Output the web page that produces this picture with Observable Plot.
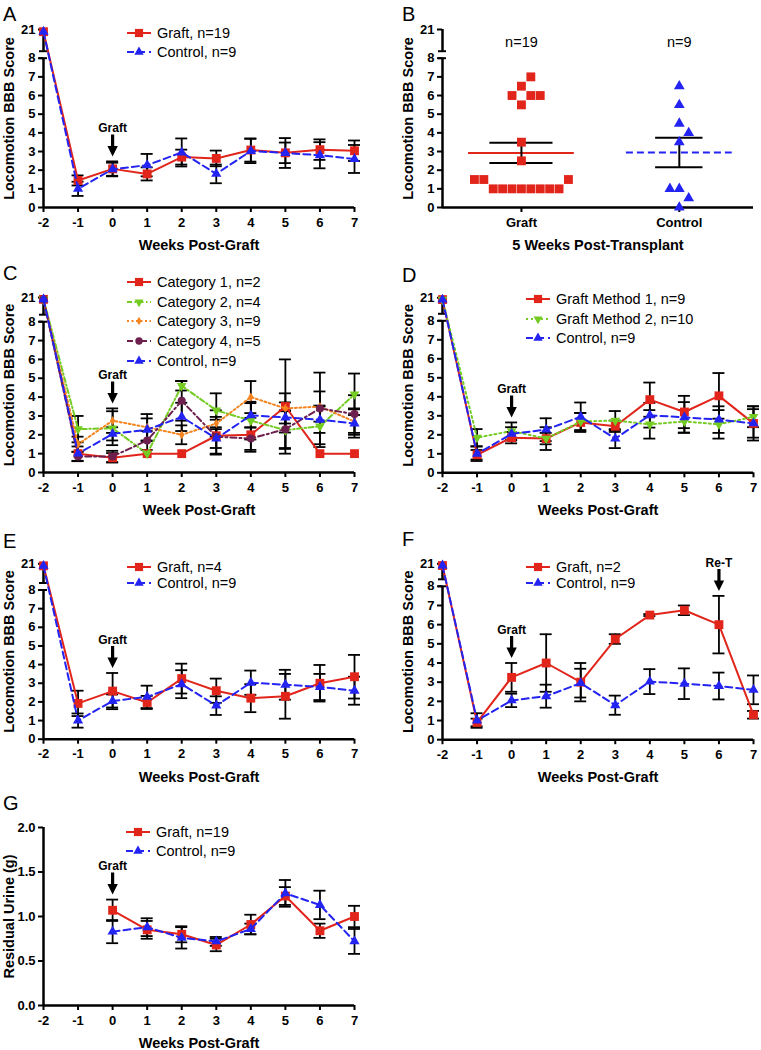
<!DOCTYPE html>
<html><head><meta charset="utf-8">
<script src="https://cdn.jsdelivr.net/npm/d3@7"></script>
<script src="https://cdn.jsdelivr.net/npm/@observablehq/plot@0.6"></script>
<style>
html,body{margin:0;padding:0;background:#fff;}
#fig{position:relative;width:761px;height:1050px;overflow:hidden;font-family:"Liberation Sans",Arial,Helvetica,sans-serif;color:#000;}
.panel{position:absolute;}
.panel svg{display:block;}
.letter{position:absolute;font-size:20px;line-height:20px;}
.legend{position:absolute;font-size:14.5px;}
.legend .row{position:absolute;left:0;height:18px;display:flex;align-items:center;white-space:nowrap;}
.legend svg{margin-right:5px;flex:none;}
</style></head><body><div id="fig"></div>
<script>
// ---------------- data ----------------
const weeks = [-2,-1,0,1,2,3,4,5,6,7];
const weekTicks = [-2,-1,0,1,2,3,4,5,6,7];

const controlBBB    = [20, 1.0, 2.05, 2.27, 2.95, 1.8, 3.03, 2.92, 2.8, 2.6];
const controlBBBSem = [0, 0.38, 0.35, 0.6, 0.75, 0.5, 0.65, 0.8, 0.7, 0.75];

const graftA    = [20, 1.45, 2.07, 1.8, 2.7, 2.63, 3.08, 2.93, 3.1, 3.04];
const graftASem = [0, 0.27, 0.4, 0.35, 0.4, 0.42, 0.62, 0.55, 0.55, 0.55];

const cat1    = [20, 1.0, 0.78, 1.0, 1.0, 1.95, 2.0, 3.5, 1.0, 1.0];
const cat1Sem = [0, 0, 0.25, 0, 0, 1.0, 0.9, 2.5, 0, 0];
const cat2    = [20, 2.3, 2.35, 1.0, 4.6, 3.3, 2.75, 2.25, 2.45, 4.15];
const cat2Sem = [0, 0.7, 0.9, 0, 0.25, 0.9, 1.0, 1.0, 1.1, 1.1];
const cat3    = [20, 1.5, 2.75, 2.4, 2.0, 2.6, 4.0, 3.4, 3.5, 2.7];
const cat3Sem = [0, 0.4, 0.65, 0.7, 0.5, 0.7, 0.85, 0.8, 0.8, 0.7];
const cat4    = [20, 0.85, 0.85, 1.7, 3.8, 1.9, 1.8, 2.3, 3.4, 3.1];
const cat4Sem = [0, 0.25, 0.3, 0.5, 1.05, 0.9, 0.6, 1.0, 1.9, 1.0];

const method1    = [20, 0.95, 1.85, 1.8, 2.65, 2.45, 3.85, 3.2, 4.05, 2.6];
const method1Sem = [0, 0.25, 0.3, 0.6, 0.5, 0.3, 0.9, 0.85, 1.2, 0.9];
const method2    = [20, 1.85, 2.2, 1.8, 2.7, 2.75, 2.55, 2.7, 2.55, 2.95];
const method2Sem = [0, 0.45, 0.45, 0.3, 0.45, 0.5, 0.75, 0.6, 0.75, 0.55];

const graftE    = [20, 1.92, 2.58, 1.97, 3.25, 2.6, 2.2, 2.3, 3.0, 3.35];
const graftESem = [0, 0.68, 0.97, 0.35, 0.8, 0.65, 0.75, 1.2, 0.98, 1.17];

const graftF    = [20, 0.9, 3.25, 4.0, 3.0, 5.25, 6.5, 6.75, 6.0, 1.3];
const graftFSem = [0, 0.2, 0.75, 1.5, 1.0, 0.25, 0.05, 0.25, 1.5, 0.2];

const urineWeeks    = [0,1,2,3,4,5,6,7];
const urineGraft    = [1.07, 0.85, 0.80, 0.68, 0.91, 1.23, 0.84, 1.00];
const urineGraftSem = [0.12, 0.10, 0.09, 0.07, 0.11, 0.10, 0.08, 0.12];
const urineCtrl     = [0.83, 0.88, 0.76, 0.72, 0.86, 1.26, 1.13, 0.72];
const urineCtrlSem  = [0.13, 0.10, 0.12, 0.05, 0.06, 0.15, 0.16, 0.14];

const bCategories = ["Graft", "Control"];
const bGraftScores   = [7, 6.5, 6, 6, 6, 5.5, 3.5, 2.5, 1.5, 1.5, 1.5, 1, 1, 1, 1, 1, 1, 1, 1];
const bControlScores = [6.5, 5.5, 4.5, 4, 3.5, 1, 1, 0.5, 0];
const bCounts = ["n=19", "n=9"];

// ---------------- styles ----------------
const RED = "#e1251b", BLUE = "#2323f2", GREEN = "#74cc22", ORANGE = "#f5841f", PURPLE = "#6d1f4e";
const triDown = {draw(c, size){ const s3 = Math.sqrt(3); const y = -Math.sqrt(size/(s3*3)); c.moveTo(0,-y*2); c.lineTo(-s3*y, y); c.lineTo(s3*y, y); c.closePath(); }};
const arrowSym = {draw(c){ c.moveTo(-1.6,-22); c.lineTo(1.6,-22); c.lineTo(1.6,-10.5); c.lineTo(5.2,-10.5); c.lineTo(0,0); c.lineTo(-5.2,-10.5); c.lineTo(-1.6,-10.5); c.closePath(); }};
const SQ = {symbol: d3.symbolSquare, r: 5};
const TRI = {symbol: d3.symbolTriangle, r: 3.8};
const TRID = {symbol: triDown, r: 3.6};
const DIA = {symbol: d3.symbolDiamond, r: 2.8};
const CIR = {symbol: d3.symbolCircle, r: 4};

function S(name, values, sem, color, dash, shape, w){ return {name, values, sem, color, dash, ...shape, weeks: w || weeks}; }
const ctrlSeries = () => S("Control, n=9", controlBBB, controlBBBSem, BLUE, "7,4", TRI);

const fig = document.getElementById("fig");
const FONT = "'Liberation Sans', Arial, Helvetica, sans-serif";
const W = 362, ML = 43, MR = 8;

function addLetter(t, x, y){ const d = document.createElement("div"); d.className = "letter"; d.textContent = t; d.style.left = x+"px"; d.style.top = y+"px"; fig.appendChild(d); }

function addLegend(lg, series){
  const div = document.createElement("div"); div.className = "legend";
  div.style.left = lg.x + "px"; div.style.top = lg.y + "px";
  series.forEach((s, i) => {
    const row = document.createElement("div"); row.className = "row";
    row.style.top = (i*lg.dy - 9) + "px";
    const path = d3.symbol(s.symbol, Math.PI*s.r*s.r*0.85)();
    row.innerHTML = `<svg width="26" height="14"><line x1="1" x2="25" y1="7" y2="7" stroke="${s.color}" stroke-width="2" ${s.dash ? `stroke-dasharray="${s.dash}"` : ""}/><path transform="translate(13,7)" d="${path}" fill="${s.color}"/></svg><span>${s.name}</span>`;
    div.appendChild(row);
  });
  fig.appendChild(div);
}

function place(node, left, top){ const d = document.createElement("div"); d.className = "panel"; d.style.left = left+"px"; d.style.top = top+"px"; d.appendChild(node); fig.appendChild(d); }

const plotStyle = {fontFamily: FONT, fontSize: "13px", fontWeight: "bold", background: "transparent", overflow: "visible", color: "black"};

function titleMarks(p){
  return [
    Plot.text([p.yTitle], {frameAnchor: "left", textAnchor: "middle", lineAnchor: "middle", dx: -34, rotate: -90, fontSize: 14.5, fontWeight: "bold", text: d => d}),
    Plot.text([p.xTitle], {frameAnchor: "bottom", textAnchor: "middle", lineAnchor: "middle", dy: 38, fontSize: 14.5, fontWeight: "bold", text: d => d})
  ];
}

function linePanel(p){
  const mt = p.yTopPx - p.top, mb = p.height - (p.y0Px - p.top);
  let yTop, disp, yTicks, yFmt, gap = 0;
  if (p.broken) {
    const ppu = (p.y0Px - p.y8Px) / 8;
    yTop = 8 + (p.y8Px - p.yTopPx) / ppu;
    disp = v => v <= 8 ? v : 8 + (v - 8) / 13 * (yTop - 8);
    yTicks = [...d3.range(0, 9), yTop];
    yFmt = d => d > 8 ? "21" : String(d);
    gap = 7 / ppu;
  } else {
    yTop = p.ymax; disp = v => v; yTicks = p.yTicks; yFmt = d3.format(".1f");
  }
  const xppu = (W - ML - MR) / 9;
  const capW = 6 / xppu;
  const marks = [];
  marks.push(Plot.axisX({ticks: weekTicks, tickSize: 5, tickPadding: 5, strokeWidth: 2, fontSize: 13, fontWeight: "bold", label: null, tickFormat: d => String(d)}));
  marks.push(Plot.axisY({ticks: yTicks, tickFormat: yFmt, tickSize: 5, tickPadding: 3, strokeWidth: 2, fontSize: 13, fontWeight: "bold", label: null}));
  marks.push(Plot.ruleY([0], {strokeWidth: 2.5}));
  if (p.broken) {
    marks.push(Plot.ruleX([-2], {y1: 0, y2: 8, strokeWidth: 2.5}));
    marks.push(Plot.ruleX([-2], {y1: 8 + gap, y2: yTop, strokeWidth: 2.5}));
    marks.push(Plot.ruleY([8 + gap, 8], {x1: -2 - 4/xppu, x2: -2 + 4/xppu, strokeWidth: 2}));
  } else {
    marks.push(Plot.ruleX([-2], {strokeWidth: 2.5}));
  }
  const rowsOf = s => s.values.map((v, i) => ({w: s.weeks[i], v, e: s.sem[i]}));
  p.series.forEach(s => {
    const eb = rowsOf(s).filter(r => r.e > 0);
    marks.push(Plot.ruleX(eb, {x: "w", y1: r => disp(r.v - r.e), y2: r => disp(r.v + r.e), strokeWidth: 1.8}));
    marks.push(Plot.ruleY(eb, {y: r => disp(r.v - r.e), x1: r => r.w - capW, x2: r => r.w + capW, strokeWidth: 1.8}));
    marks.push(Plot.ruleY(eb, {y: r => disp(r.v + r.e), x1: r => r.w - capW, x2: r => r.w + capW, strokeWidth: 1.8}));
  });
  p.series.forEach(s => {
    const rows = rowsOf(s);
    marks.push(Plot.line(rows, {x: "w", y: r => disp(r.v), stroke: s.color, strokeWidth: 2, strokeDasharray: s.dash || null}));
    marks.push(Plot.dot(rows, {x: "w", y: r => disp(r.v), symbol: s.symbol, r: s.r, fill: s.color, stroke: "none"}));
  });
  if (p.annots) {
    const ann = p.annots.map(a => ({w: a.w, label: a.label, top: d3.max(p.series, s => { const i = s.weeks.indexOf(a.w); return i < 0 ? 0 : disp(s.values[i] + s.sem[i]); })}));
    marks.push(Plot.dot(ann, {x: "w", y: "top", symbol: arrowSym, fill: "black", stroke: "none", dy: -5}));
    marks.push(Plot.text(ann, {x: "w", y: "top", text: "label", dy: -33, fontSize: 12, fontWeight: "bold"}));
  }
  marks.push(...titleMarks(p));
  const svg = Plot.plot({width: W, height: p.height, marginLeft: ML, marginRight: MR, marginTop: mt, marginBottom: mb,
    x: {domain: [-2, 7]}, y: {domain: [0, yTop]}, style: plotStyle, marks});
  place(svg, p.left, p.top);
  addLegend(p.legend, p.series);
  addLetter(p.letter, p.letterPos[0], p.letterPos[1]);
}

function swarm(values, step, thrY){
  const placed = [];
  const sorted = values.map((v, i) => ({v, i})).sort((a, b) => a.v - b.v);
  const cands = [0]; for (let k = 1; k <= 24; k++) { cands.push(k*0.5, -k*0.5); }
  for (const d of sorted) {
    for (const c of cands) {
      if (!placed.some(q => Math.abs(q.v - d.v) < thrY && Math.abs(q.o - c) < 1)) { placed.push({v: d.v, o: c}); break; }
    }
  }
  return placed.map(q => ({v: q.v, o: q.o * step}));
}

function scatterPanel(p){
  const mt = p.yTopPx - p.top, mb = p.height - (p.y0Px - p.top);
  const ppu = (p.y0Px - p.y8Px) / 8;
  const yTop = 8 + (p.y8Px - p.yTopPx) / ppu;
  const gap = 7 / ppu;
  const xDom = [0.5, 2.47];
  const xppu = (W - ML - MR) / (xDom[1] - xDom[0]);
  const step = 9.4 / xppu;
  const marks = [];
  marks.push(Plot.axisX({ticks: [1, 2], tickFormat: d => bCategories[d-1], tickSize: 5, tickPadding: 5, strokeWidth: 2, fontSize: 13, fontWeight: "bold", label: null}));
  marks.push(Plot.axisY({ticks: [...d3.range(0, 9), yTop], tickFormat: d => d > 8 ? "21" : String(d), tickSize: 5, tickPadding: 3, strokeWidth: 2, fontSize: 13, fontWeight: "bold", label: null}));
  marks.push(Plot.ruleY([0], {strokeWidth: 2.5}));
  marks.push(Plot.ruleX([xDom[0]], {y1: 0, y2: 8, strokeWidth: 2.5}));
  marks.push(Plot.ruleX([xDom[0]], {y1: 8 + gap, y2: yTop, strokeWidth: 2.5}));
  marks.push(Plot.ruleY([8 + gap, 8], {x1: xDom[0] - 4/xppu, x2: xDom[0] + 4/xppu, strokeWidth: 2}));
  const groups = [
    {c: 1, vals: bGraftScores, color: RED, dash: null, shape: SQ, cap: 0.2},
    {c: 2, vals: bControlScores, color: BLUE, dash: "7,4", shape: {symbol: d3.symbolTriangle, r: 4}, cap: 0.15}
  ];
  groups.forEach(g => {
    const m = d3.mean(g.vals), se = d3.deviation(g.vals) / Math.sqrt(g.vals.length);
    const st = [{c: g.c, m, lo: m - se, hi: m + se}];
    marks.push(Plot.ruleY(st, {y: "m", x1: d => d.c - 0.335, x2: d => d.c + 0.335, stroke: g.color, strokeWidth: 2, strokeDasharray: g.dash}));
    marks.push(Plot.ruleX(st, {x: "c", y1: "lo", y2: "hi", strokeWidth: 2}));
    marks.push(Plot.ruleY(st, {y: "lo", x1: d => d.c - g.cap, x2: d => d.c + g.cap, strokeWidth: 2}));
    marks.push(Plot.ruleY(st, {y: "hi", x1: d => d.c - g.cap, x2: d => d.c + g.cap, strokeWidth: 2}));
    const pts = swarm(g.vals, step, 0.55).map(q => ({x: g.c + q.o, y: q.v}));
    marks.push(Plot.dot(pts, {x: "x", y: "y", symbol: g.shape.symbol, r: g.shape.r, fill: g.color, stroke: "none"}));
  });
  marks.push(Plot.text([1, 2], {x: d => d, frameAnchor: "top", dy: 13, lineAnchor: "middle", text: d => bCounts[d-1], fontSize: 14.5, fontWeight: "normal"}));
  marks.push(...titleMarks(p));
  const svg = Plot.plot({width: W, height: p.height, marginLeft: ML, marginRight: MR, marginTop: mt, marginBottom: mb,
    x: {domain: xDom}, y: {domain: [0, yTop]}, style: plotStyle, marks});
  place(svg, p.left, p.top);
  addLetter(p.letter, p.letterPos[0], p.letterPos[1]);
}

const BBB = "Locomotion BBB Score";

linePanel({letter: "A", letterPos: [3, 4], left: 0, top: 0, height: 262, broken: true, yTopPx: 29, y8Px: 57.7, y0Px: 207,
  xTitle: "Weeks Post-Graft", yTitle: BBB, legend: {x: 126, y: 33.3, dy: 18.5},
  series: [S("Graft, n=19", graftA, graftASem, RED, null, SQ), ctrlSeries()],
  annots: [{w: 0, label: "Graft"}]});

scatterPanel({letter: "B", letterPos: [402, 4], left: 399, top: 0, height: 262, yTopPx: 29, y8Px: 57.7, y0Px: 207,
  xTitle: "5 Weeks Post-Transplant", yTitle: BBB});

linePanel({letter: "C", letterPos: [3, 263], left: 0, top: 262, height: 268, broken: true, yTopPx: 297, y8Px: 321.2, y0Px: 472,
  xTitle: "Week Post-Graft", yTitle: BBB, legend: {x: 126, y: 282.3, dy: 19.6},
  series: [S("Category 1, n=2", cat1, cat1Sem, RED, null, SQ), S("Category 2, n=4", cat2, cat2Sem, GREEN, "5,2.5,1.5,2.5", TRID),
           S("Category 3, n=9", cat3, cat3Sem, ORANGE, "2,2.5", DIA), S("Category 4, n=5", cat4, cat4Sem, PURPLE, "6,3,2,3", CIR), ctrlSeries()],
  annots: [{w: 0, label: "Graft"}]});

linePanel({letter: "D", letterPos: [402, 265], left: 399, top: 262, height: 268, broken: true, yTopPx: 297.3, y8Px: 320.3, y0Px: 472.3,
  xTitle: "Weeks Post-Graft", yTitle: BBB, legend: {x: 525, y: 299, dy: 19.5},
  series: [S("Graft Method 1, n=9", method1, method1Sem, RED, null, SQ), S("Graft Method 2, n=10", method2, method2Sem, GREEN, "2,3", TRID), ctrlSeries()],
  annots: [{w: 0, label: "Graft"}]});

linePanel({letter: "E", letterPos: [3, 531], left: 0, top: 530, height: 266, broken: true, yTopPx: 563.3, y8Px: 589.5, y0Px: 738.7,
  xTitle: "Weeks Post-Graft", yTitle: BBB, legend: {x: 126, y: 566.7, dy: 16.7},
  series: [S("Graft, n=4", graftE, graftESem, RED, null, SQ), ctrlSeries()],
  annots: [{w: 0, label: "Graft"}]});

linePanel({letter: "F", letterPos: [402, 529], left: 399, top: 530, height: 266, broken: true, yTopPx: 563.3, y8Px: 585.8, y0Px: 739.2,
  xTitle: "Weeks Post-Graft", yTitle: BBB, legend: {x: 525, y: 566.7, dy: 16.7},
  series: [S("Graft, n=2", graftF, graftFSem, RED, null, SQ), ctrlSeries()],
  annots: [{w: 0, label: "Graft"}, {w: 6, label: "Re-T"}]});

linePanel({letter: "G", letterPos: [3, 793], left: 0, top: 796, height: 254, broken: false, ymax: 2, yTicks: [0, 0.5, 1, 1.5, 2], yTopPx: 827, y0Px: 1005,
  xTitle: "Weeks Post-Graft", yTitle: "Residual Urine (g)", legend: {x: 125, y: 831.7, dy: 19},
  series: [S("Graft, n=19", urineGraft, urineGraftSem, RED, null, SQ, urineWeeks), S("Control, n=9", urineCtrl, urineCtrlSem, BLUE, "7,4", TRI, urineWeeks)],
  annots: [{w: 0, label: "Graft"}]});
</script></body></html>
